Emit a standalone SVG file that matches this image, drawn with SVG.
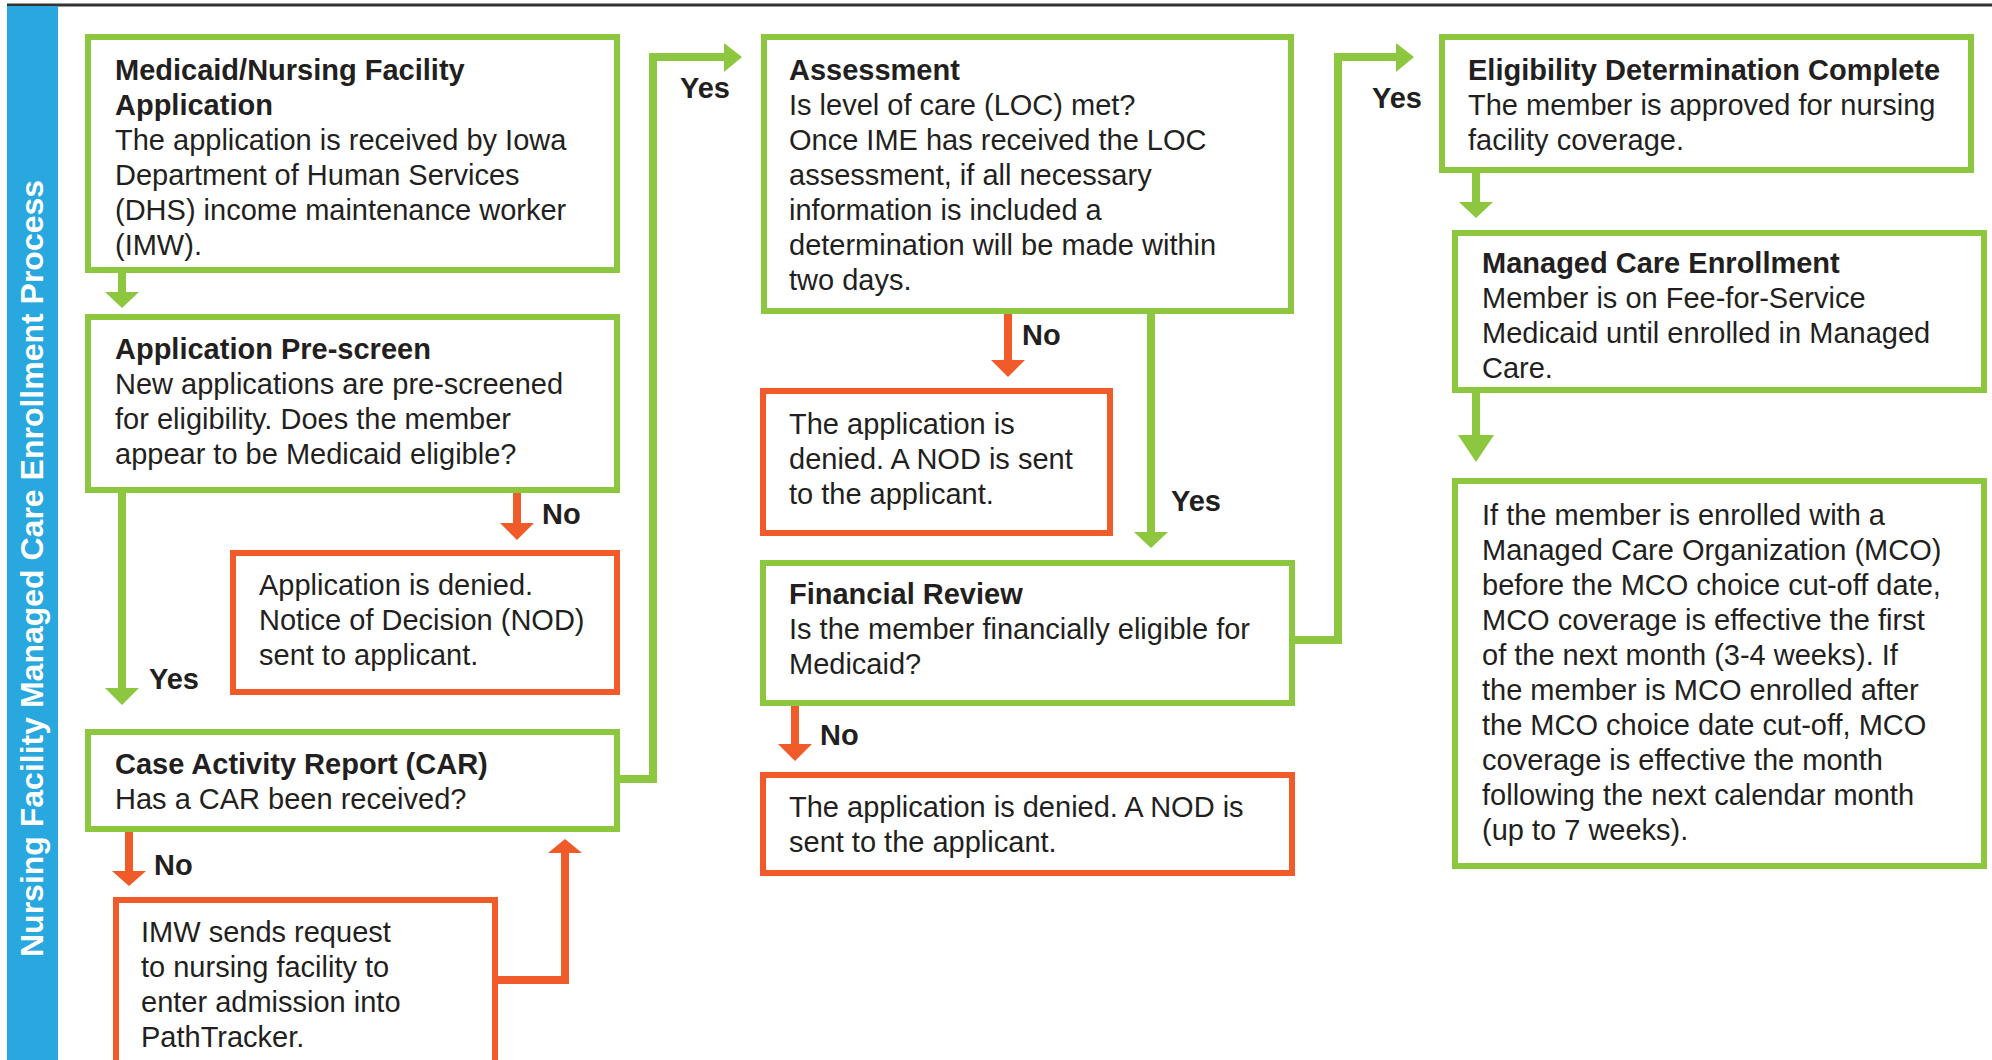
<svg xmlns="http://www.w3.org/2000/svg" width="1992" height="1060" viewBox="0 0 1992 1060">
<style>
.g{fill:#fff;stroke:#8DC63F;stroke-width:6}
.r{fill:#fff;stroke:#F15A29;stroke-width:6}
.t{font-family:"Liberation Sans",Arial,sans-serif;font-size:29px;fill:#231F20}
.b{font-weight:bold}
.lg{fill:none;stroke:#8DC63F;stroke-width:8}
.lr{fill:none;stroke:#F15A29;stroke-width:8}
.hg{fill:#8DC63F}
.hr{fill:#F15A29}
</style>
<rect x="0" y="0" width="1992" height="1060" fill="#fff"/>
<line x1="7" y1="5" x2="1992" y2="5" stroke="#333" stroke-width="3"/>
<g id="sidebar">
<rect x="7" y="6" width="51" height="1054" fill="#29A8E0"/>
<text class="b" transform="translate(43,957) rotate(-90)" font-family="Liberation Sans,Arial,sans-serif" font-size="32" font-weight="bold" fill="#fff">Nursing Facility Managed Care Enrollment Process</text>
</g>
<g id="connectors">
<line class="lg" x1="122" y1="273" x2="122" y2="294"/>
<polygon class="hg" points="105,292 139,292 122,308"/>
<line class="lr" x1="517" y1="493" x2="517" y2="525"/>
<polygon class="hr" points="500,523 534,523 517,540"/>
<line class="lg" x1="122" y1="493" x2="122" y2="690"/>
<polygon class="hg" points="105,688 139,688 122,705"/>
<line class="lr" x1="129" y1="832" x2="129" y2="873"/>
<polygon class="hr" points="112,871 146,871 129,886"/>
<polyline class="lr" points="495,980 565,980 565,851"/>
<polygon class="hr" points="548,853 582,853 565,839"/>
<polyline class="lg" points="620,779 653,779 653,57 726,57"/>
<polygon class="hg" points="724,43 724,72 742,57"/>
<line class="lr" x1="1008" y1="314" x2="1008" y2="362"/>
<polygon class="hr" points="991,360 1025,360 1008,377"/>
<line class="lg" x1="1151" y1="314" x2="1151" y2="534"/>
<polygon class="hg" points="1134,532 1168,532 1151,548"/>
<line class="lr" x1="795" y1="706" x2="795" y2="746"/>
<polygon class="hr" points="778,744 812,744 795,761"/>
<polyline class="lg" points="1295,640 1338,640 1338,57 1398,57"/>
<polygon class="hg" points="1396,43 1396,72 1414,57"/>
<line class="lg" x1="1476" y1="173" x2="1476" y2="204"/>
<polygon class="hg" points="1459,202 1493,202 1476,218"/>
<line class="lg" x1="1476" y1="393" x2="1476" y2="437"/>
<polygon class="hg" points="1458,435 1494,435 1476,462"/>
<text class="t b" x="542" y="524">No</text>
<text class="t b" x="149" y="689">Yes</text>
<text class="t b" x="154" y="875">No</text>
<text class="t b" x="680" y="98">Yes</text>
<text class="t b" x="1022" y="345">No</text>
<text class="t b" x="1171" y="511">Yes</text>
<text class="t b" x="820" y="745">No</text>
<text class="t b" x="1372" y="108">Yes</text>
</g>
<g id="application">
<rect class="g" x="88" y="37" width="529" height="233"/>
<text class="t b" x="115" y="80">Medicaid/Nursing Facility</text>
<text class="t b" x="115" y="115">Application</text>
<text class="t" x="115" y="150">The application is received by Iowa</text>
<text class="t" x="115" y="185">Department of Human Services</text>
<text class="t" x="115" y="220">(DHS) income maintenance worker</text>
<text class="t" x="115" y="255">(IMW).</text>
</g>
<g id="prescreen">
<rect class="g" x="88" y="317" width="529" height="173"/>
<text class="t b" x="115" y="359">Application Pre-screen</text>
<text class="t" x="115" y="394">New applications are pre-screened</text>
<text class="t" x="115" y="429">for eligibility. Does the member</text>
<text class="t" x="115" y="464">appear to be Medicaid eligible?</text>
</g>
<g id="denied1">
<rect class="r" x="233" y="553" width="384" height="139"/>
<text class="t" x="259" y="595">Application is denied.</text>
<text class="t" x="259" y="630">Notice of Decision (NOD)</text>
<text class="t" x="259" y="665">sent to applicant.</text>
</g>
<g id="car">
<rect class="g" x="88" y="732" width="529" height="97"/>
<text class="t b" x="115" y="774">Case Activity Report (CAR)</text>
<text class="t" x="115" y="809">Has a CAR been received?</text>
</g>
<g id="imw">
<rect class="r" x="116" y="900" width="379" height="175"/>
<text class="t" x="141" y="942">IMW sends request</text>
<text class="t" x="141" y="977">to nursing facility to</text>
<text class="t" x="141" y="1012">enter admission into</text>
<text class="t" x="141" y="1047">PathTracker.</text>
</g>
<g id="assessment">
<rect class="g" x="764" y="37" width="527" height="274"/>
<text class="t b" x="789" y="80">Assessment</text>
<text class="t" x="789" y="115">Is level of care (LOC) met?</text>
<text class="t" x="789" y="150">Once IME has received the LOC</text>
<text class="t" x="789" y="185">assessment, if all necessary</text>
<text class="t" x="789" y="220">information is included a</text>
<text class="t" x="789" y="255">determination will be made within</text>
<text class="t" x="789" y="290">two days.</text>
</g>
<g id="denied2">
<rect class="r" x="763" y="391" width="347" height="142"/>
<text class="t" x="789" y="434">The application is</text>
<text class="t" x="789" y="469">denied. A NOD is sent</text>
<text class="t" x="789" y="504">to the applicant.</text>
</g>
<g id="financial">
<rect class="g" x="763" y="563" width="529" height="140"/>
<text class="t b" x="789" y="604">Financial Review</text>
<text class="t" x="789" y="639">Is the member financially eligible for</text>
<text class="t" x="789" y="674">Medicaid?</text>
</g>
<g id="denied3">
<rect class="r" x="763" y="775" width="529" height="98"/>
<text class="t" x="789" y="817">The application is denied. A NOD is</text>
<text class="t" x="789" y="852">sent to the applicant.</text>
</g>
<g id="eligibility">
<rect class="g" x="1442" y="37" width="529" height="133"/>
<text class="t b" x="1468" y="80">Eligibility Determination Complete</text>
<text class="t" x="1468" y="115">The member is approved for nursing</text>
<text class="t" x="1468" y="150">facility coverage.</text>
</g>
<g id="enrollment">
<rect class="g" x="1455" y="233" width="529" height="157"/>
<text class="t b" x="1482" y="273">Managed Care Enrollment</text>
<text class="t" x="1482" y="308">Member is on Fee-for-Service</text>
<text class="t" x="1482" y="343">Medicaid until enrolled in Managed</text>
<text class="t" x="1482" y="378">Care.</text>
</g>
<g id="mco">
<rect class="g" x="1455" y="481" width="529" height="385"/>
<text class="t" x="1482" y="525">If the member is enrolled with a</text>
<text class="t" x="1482" y="560">Managed Care Organization (MCO)</text>
<text class="t" x="1482" y="595">before the MCO choice cut-off date,</text>
<text class="t" x="1482" y="630">MCO coverage is effective the first</text>
<text class="t" x="1482" y="665">of the next month (3-4 weeks). If</text>
<text class="t" x="1482" y="700">the member is MCO enrolled after</text>
<text class="t" x="1482" y="735">the MCO choice date cut-off, MCO</text>
<text class="t" x="1482" y="770">coverage is effective the month</text>
<text class="t" x="1482" y="805">following the next calendar month</text>
<text class="t" x="1482" y="840">(up to 7 weeks).</text>
</g>
</svg>
